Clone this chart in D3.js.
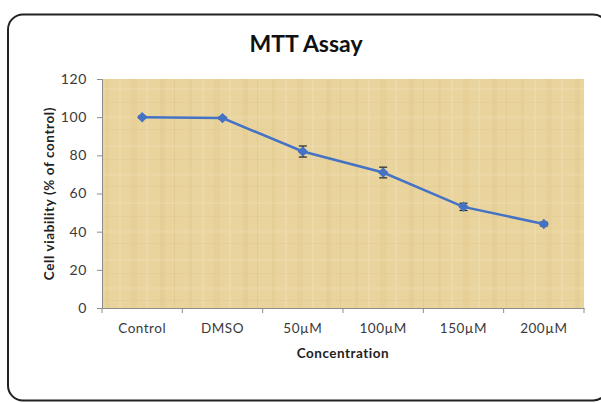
<!DOCTYPE html>
<html lang="en">
<head>
  <meta charset="UTF-8">
  <title>MTT Assay</title>
  <style>
    body { margin: 0; background: #fff; }
    svg { display: block; font-family: Lato, "Open Sans", sans-serif; }
    .axis path, .axis line { stroke: #8c8c8c; }
    .axis text { fill: #3a3a3a; }
  </style>
</head>
<body>
  <div id="chart"></div>
  <script src="https://cdn.jsdelivr.net/npm/d3@7"></script>
  <script>
    // data
    var categories = ['Control', 'DMSO', '50\u00b5M', '100\u00b5M', '150\u00b5M', '200\u00b5M'];
    var viability = [100, 99.5, 82, 71, 53, 44];
    var errors = [0.6, 0.6, 2.9, 2.8, 1.9, 1.0];
    var yTicks = [0, 20, 40, 60, 80, 100, 120];

    var width = 601, height = 403;
    var margin = { top: 79, left: 102, right: 17, bottom: 95 };
    var pw = width - margin.left - margin.right;
    var ph = height - margin.top - margin.bottom;

    var svg = d3.select('#chart').append('svg')
      .attr('width', width)
      .attr('height', height);

    // outer rounded frame
    svg.append('rect')
      .attr('x', 8).attr('y', 14.5)
      .attr('width', 600).attr('height', 386)
      .attr('rx', 15)
      .attr('fill', '#fff')
      .attr('stroke', '#222')
      .attr('stroke-width', 2);

    // papyrus-ish texture, kept soft
    var defs = svg.append('defs');
    var pat = defs.append('pattern')
      .attr('id', 'papyrus')
      .attr('patternUnits', 'userSpaceOnUse')
      .attr('width', 83).attr('height', 57);
    pat.append('rect').attr('width', 83).attr('height', 57).attr('fill', '#e9d49e');
    [[4, 3, '#e2ca8e'], [17, 2, '#efdfb4'], [29, 6, '#e4cc91'], [44, 2, '#f0e0b6'], [58, 5, '#e3ca8d'], [72, 1, '#ddc382']]
      .forEach(function (s) {
        pat.append('rect').attr('x', s[0]).attr('y', 0).attr('width', s[1]).attr('height', 57)
          .attr('fill', s[2]).attr('opacity', 0.45);
      });
    [[9, 2, '#f1e2b9'], [23, 1, '#dfc588'], [37, 3, '#efdeb0'], [50, 1, '#e0c68a']]
      .forEach(function (s) {
        pat.append('rect').attr('x', 0).attr('y', s[0]).attr('width', 83).attr('height', s[1])
          .attr('fill', s[2]).attr('opacity', 0.3);
      });

    var g = svg.append('g').attr('transform', 'translate(' + margin.left + ',' + margin.top + ')');

    g.append('rect').attr('width', pw).attr('height', ph).attr('fill', 'url(#papyrus)');

    var x = d3.scaleBand().domain(categories).range([0, pw]);
    var y = d3.scaleLinear().domain([0, 120]).range([ph, 0]);

    g.append('g').attr('class', 'axis')
      .call(d3.axisLeft(y).tickValues(yTicks).tickSize(5).tickPadding(10))
      .attr('font-family', null)
      .attr('font-size', 14)
      .attr('letter-spacing', 0.6);

    var xa = g.append('g').attr('class', 'axis')
      .attr('transform', 'translate(0,' + ph + ')')
      .call(d3.axisBottom(x).tickSize(0).tickPadding(15))
      .attr('font-family', null)
      .attr('font-size', 13.5)
      .attr('letter-spacing', 0.5);
    // Excel style ticks between categories
    xa.selectAll('.sep')
      .data(d3.range(categories.length + 1))
      .enter().append('line')
      .attr('class', 'sep')
      .attr('x1', function (i) { return i * x.bandwidth(); })
      .attr('x2', function (i) { return i * x.bandwidth(); })
      .attr('y1', 0).attr('y2', 5);

    var cx = function (d, i) { return x(categories[i]) + x.bandwidth() / 2; };

    // error bars
    var eb = g.append('g').attr('stroke', '#222').attr('stroke-width', 1.2);
    viability.forEach(function (v, i) {
      var px = cx(v, i);
      eb.append('line').attr('x1', px).attr('x2', px)
        .attr('y1', y(v + errors[i])).attr('y2', y(v - errors[i]));
      [v + errors[i], v - errors[i]].forEach(function (e) {
        eb.append('line').attr('x1', px - 4).attr('x2', px + 4)
          .attr('y1', y(e)).attr('y2', y(e));
      });
    });

    var line = d3.line().x(cx).y(function (d) { return y(d); });
    g.append('path').datum(viability)
      .attr('d', line)
      .attr('fill', 'none')
      .attr('stroke', '#4473c5')
      .attr('stroke-width', 2.5);

    g.selectAll('.pt').data(viability).enter().append('path')
      .attr('class', 'pt')
      .attr('d', d3.symbol(d3.symbolDiamond2, 70))
      .attr('transform', function (d, i) { return 'translate(' + cx(d, i) + ',' + y(d) + ')'; })
      .attr('fill', '#4473c5');

    // titles
    svg.append('text')
      .attr('x', 306).attr('y', 52)
      .attr('text-anchor', 'middle')
      .attr('font-size', 23).attr('font-weight', 'bold').attr('fill', '#111')
      .text('MTT Assay');

    svg.append('text')
      .attr('x', margin.left + pw / 2).attr('y', 358)
      .attr('text-anchor', 'middle')
      .attr('font-size', 13.5).attr('font-weight', 'bold').attr('fill', '#222')
      .attr('letter-spacing', 0.5)
      .text('Concentration');

    svg.append('text')
      .attr('transform', 'translate(54,' + (margin.top + ph / 2) + ') rotate(-90)')
      .attr('text-anchor', 'middle')
      .attr('font-size', 13.5).attr('font-weight', 'bold').attr('fill', '#222')
      .attr('letter-spacing', 0.6)
      .text('Cell viability (% of control)');
  </script>
</body>
</html>
